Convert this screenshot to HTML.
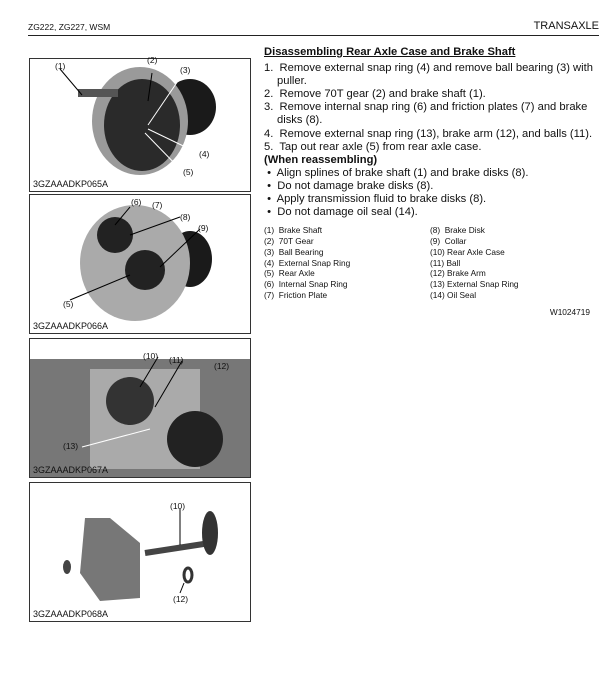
<!DOCTYPE html>
<html><head><style>
body{margin:0;width:614px;height:676px;background:#fff;font-family:"Liberation Sans",sans-serif;color:#111;position:relative;overflow:hidden}
.a{position:absolute}
.box{position:absolute;left:29px;width:220px;border:1px solid #333;background:#fff}
.cap{position:absolute;left:3px;bottom:2px;font-size:9px}
.lb{position:absolute;font-size:8.5px}
.t{font-size:11.2px;line-height:13.1px}
.s{font-size:8.3px;line-height:10.8px}
</style></head><body>
<div class="a" style="left:28px;top:22px;font-size:8.5px">ZG222, ZG227, WSM</div>
<div class="a" style="right:15px;top:20px;font-size:11px">TRANSAXLE</div>
<div class="a" style="left:28px;top:35px;width:571px;height:1px;background:#222"></div>

<div class="box" style="top:58px;height:132px">
<svg width="220" height="132" style="position:absolute;left:0;top:0">
<ellipse cx="160" cy="48" rx="26" ry="28" fill="#1a1a1a"/>
<ellipse cx="110" cy="62" rx="48" ry="54" fill="#9a9a9a"/>
<ellipse cx="112" cy="66" rx="38" ry="46" fill="#2a2a2a"/>
<rect x="48" y="30" width="40" height="8" fill="#555"/>
<line x1="30" y1="10" x2="52" y2="36" stroke="#000"/>
<line x1="122" y1="14" x2="118" y2="42" stroke="#000"/>
<line x1="152" y1="16" x2="118" y2="66" stroke="#fff"/>
<line x1="118" y1="70" x2="170" y2="95" stroke="#fff"/>
<line x1="115" y1="74" x2="152" y2="112" stroke="#fff"/>
</svg>
<span class="lb" style="left:25px;top:2px">(1)</span><span class="lb" style="left:117px;top:-4px">(2)</span><span class="lb" style="left:150px;top:6px">(3)</span><span class="lb" style="left:169px;top:90px">(4)</span><span class="lb" style="left:153px;top:108px">(5)</span>
<div class="cap">3GZAAADKP065A</div></div>

<div class="box" style="top:194px;height:138px">
<svg width="220" height="138" style="position:absolute;left:0;top:0">
<ellipse cx="160" cy="64" rx="22" ry="28" fill="#1a1a1a"/>
<ellipse cx="105" cy="68" rx="55" ry="58" fill="#aaa"/>
<circle cx="85" cy="40" r="18" fill="#222"/>
<circle cx="115" cy="75" r="20" fill="#222"/>
<line x1="40" y1="105" x2="100" y2="80" stroke="#000"/>
<line x1="100" y1="12" x2="85" y2="30" stroke="#000"/>
<line x1="150" y1="22" x2="100" y2="40" stroke="#000"/>
<line x1="170" y1="34" x2="130" y2="72" stroke="#000"/>
</svg>
<span class="lb" style="left:101px;top:2px">(6)</span><span class="lb" style="left:122px;top:5px">(7)</span><span class="lb" style="left:150px;top:17px">(8)</span><span class="lb" style="left:168px;top:28px">(9)</span><span class="lb" style="left:33px;top:104px">(5)</span>
<div class="cap">3GZAAADKP066A</div></div>

<div class="box" style="top:338px;height:138px">
<svg width="220" height="138" style="position:absolute;left:0;top:0">
<rect x="0" y="20" width="220" height="118" fill="#777"/>
<rect x="60" y="30" width="110" height="100" fill="#aaa"/>
<circle cx="100" cy="62" r="24" fill="#333"/>
<circle cx="165" cy="100" r="28" fill="#222"/>
<line x1="128" y1="18" x2="110" y2="48" stroke="#000"/>
<line x1="152" y1="22" x2="125" y2="68" stroke="#000"/>
<line x1="52" y1="108" x2="120" y2="90" stroke="#fff"/>
</svg>
<span class="lb" style="left:113px;top:12px">(10)</span><span class="lb" style="left:139px;top:16px">(11)</span><span class="lb" style="left:184px;top:22px">(12)</span><span class="lb" style="left:33px;top:102px">(13)</span>
<div class="cap">3GZAAADKP067A</div></div>

<div class="box" style="top:482px;height:138px">
<svg width="220" height="138" style="position:absolute;left:0;top:0">
<polygon points="55,35 80,35 110,60 110,115 70,118 50,90" fill="#777"/>
<ellipse cx="37" cy="84" rx="4" ry="7" fill="#444"/>
<line x1="115" y1="70" x2="180" y2="60" stroke="#444" stroke-width="6"/>
<ellipse cx="180" cy="50" rx="8" ry="22" fill="#333"/>
<ellipse cx="158" cy="92" rx="4" ry="7" fill="none" stroke="#333" stroke-width="3"/>
<line x1="150" y1="26" x2="150" y2="62" stroke="#000"/>
<line x1="154" y1="100" x2="150" y2="110" stroke="#000"/>
</svg>
<span class="lb" style="left:140px;top:18px">(10)</span><span class="lb" style="left:143px;top:111px">(12)</span>
<div class="cap">3GZAAADKP068A</div></div>

<div class="a" style="left:264px;top:46px;width:340px">
<div class="t" style="font-weight:bold;text-decoration:underline;margin-bottom:3px">Disassembling Rear Axle Case and Brake Shaft</div>
<div class="t" style="padding-left:13px;text-indent:-13px">1.&nbsp; Remove external snap ring (4) and remove ball bearing (3) with puller.</div>
<div class="t">2.&nbsp; Remove 70T gear (2) and brake shaft (1).</div>
<div class="t" style="padding-left:13px;text-indent:-13px">3.&nbsp; Remove internal snap ring (6) and friction plates (7) and brake disks (8).</div>
<div class="t">4.&nbsp; Remove external snap ring (13), brake arm (12), and balls (11).</div>
<div class="t">5.&nbsp; Tap out rear axle (5) from rear axle case.</div>
<div class="t" style="font-weight:bold">(When reassembling)</div>
<div class="t">&nbsp;•&nbsp; Align splines of brake shaft (1) and brake disks (8).</div>
<div class="t">&nbsp;•&nbsp; Do not damage brake disks (8).</div>
<div class="t">&nbsp;•&nbsp; Apply transmission fluid to brake disks (8).</div>
<div class="t">&nbsp;•&nbsp; Do not damage oil seal (14).</div>
<div style="display:flex;margin-top:6px">
<div class="s" style="width:166px">(1)&nbsp; Brake Shaft<br>(2)&nbsp; 70T Gear<br>(3)&nbsp; Ball Bearing<br>(4)&nbsp; External Snap Ring<br>(5)&nbsp; Rear Axle<br>(6)&nbsp; Internal Snap Ring<br>(7)&nbsp; Friction Plate</div>
<div class="s">(8)&nbsp; Brake Disk<br>(9)&nbsp; Collar<br>(10) Rear Axle Case<br>(11) Ball<br>(12) Brake Arm<br>(13) External Snap Ring<br>(14) Oil Seal</div>
</div>
<div class="s" style="text-align:right;margin-top:6px;padding-right:14px">W1024719</div>
</div>
</body></html>
